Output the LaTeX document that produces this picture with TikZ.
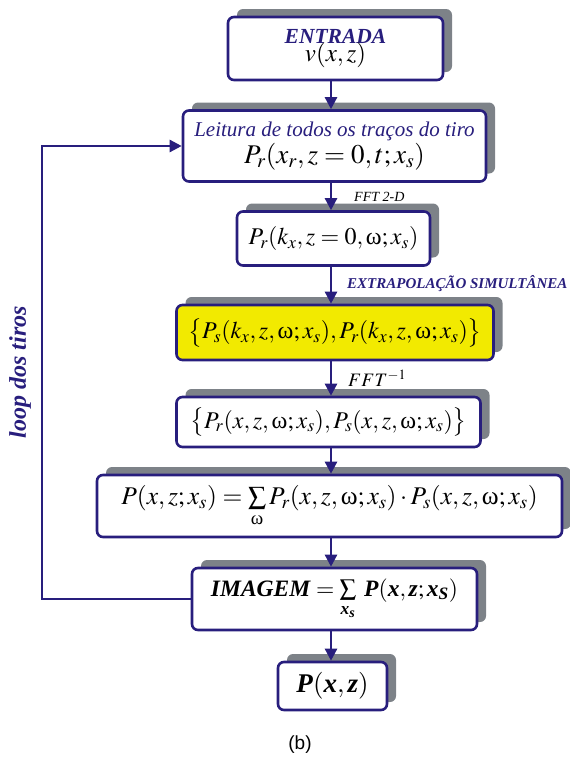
\documentclass[tikz,border=0pt]{standalone}
\usepackage{amsmath}
\usepackage{mathptmx}
\usepackage{fontspec}
\setmainfont{Liberation Serif}
\newfontfamily\labelsans{Liberation Sans}
\usetikzlibrary{arrows.meta,shadows}

\definecolor{navy}{RGB}{40,30,125}
\definecolor{shade}{RGB}{125,130,136}
\definecolor{boxyellow}{RGB}{242,234,0}

\newcommand{\om}{\textup{ω}}
\newcommand{\bi}[1]{\textbf{\textit{#1}}}

\begin{document}
\begin{tikzpicture}[x=1pt,y=-1pt,
  box/.style={draw=navy, line width=2.6pt, rounded corners=6pt, fill=white,
    inner sep=0pt, align=center,
    drop shadow={shadow xshift=9pt, shadow yshift=8pt, fill=shade, opacity=1}},
  arr/.style={draw=navy, line width=2.4pt, -{Triangle[length=12pt,width=12pt]}},
  mathsize/.style={font=\fontsize{24}{28}\selectfont},
  note/.style={inner sep=0pt, anchor=west}]

\useasboundingbox (0,0) rectangle (570,766);

\coordinate (ax) at (331,0);
\coordinate (lx) at (42,0);

% process boxes, top to bottom
\node[box, minimum width=215pt, minimum height=63pt] (b1) at (335.5,48.5)
  {{\fontsize{21.5}{22}\selectfont\bfseries\itshape\color{navy} ENTRADA}\\[-1pt]
   {\fontsize{25}{26}\selectfont $v(x,z)$}};

\node[box, minimum width=303pt, minimum height=71pt] (b2) at (334.5,146)
  {{\fontsize{21}{22}\selectfont\itshape\color{navy} Leitura de todos os traços do tiro}\\[2pt]
   {\fontsize{27}{28}\selectfont $P_r(x_r,z=0,t;x_s)$}};

\node[box, mathsize, minimum width=193pt, minimum height=54pt] (b3) at (333.5,238.5)
  {$P_r(k_x,z=0,\om;x_s)$};

\node[box, mathsize, fill=boxyellow, minimum width=317pt, minimum height=55pt] (b4) at (335,332.5)
  {$\bigl\{P_s(k_x,z,\om;x_s),P_r(k_x,z,\om;x_s)\bigr\}$};

\node[box, mathsize, minimum width=304pt, minimum height=50pt] (b5) at (328.5,422)
  {$\bigl\{P_r(x,z,\om;x_s),P_s(x,z,\om;x_s)\bigr\}$};

\node[box, font=\fontsize{25.5}{28}\selectfont, minimum width=465pt, minimum height=62pt] (b6) at (329.5,506)
  {$P(x,z;x_s)=\sum\limits_{\om}P_r(x,z,\om;x_s)\cdot P_s(x,z,\om;x_s)$};

\node[box, minimum width=285pt, minimum height=62pt] (b7) at (334.5,599)
  {\fontsize{23.5}{26}\selectfont
   $\bi{IMAGEM}=\sum\limits_{\bi{x}_{\bi{s}}}\;\bi{P}\mathbf{(}\bi{x}\mathbf{,}\,\bi{z}\mathbf{;}\,\bi{x}_{\bi{S}}\mathbf{)}$};

\node[box, minimum width=109pt, minimum height=48pt] (b8) at (332.5,686)
  {\fontsize{27}{28}\selectfont $\bi{P}\mathbf{(}\bi{x}\mathbf{,}\,\bi{z}\mathbf{)}$};

% main flow
\draw[arr] (b1.south -| ax) -- (b2.north -| ax);
\draw[arr] (b2.south -| ax) -- (b3.north -| ax);
\draw[arr] (b3.south -| ax) -- (b4.north -| ax);
\draw[arr] (b4.south -| ax) -- (b5.north -| ax);
\draw[arr] (b5.south -| ax) -- (b6.north -| ax);
\draw[arr] (b6.south -| ax) -- (b7.north -| ax);
\draw[arr] (b7.south -| ax) -- (b8.north -| ax);

% shot loop
\draw[arr] (b7.west) -- (b7.west -| lx) |- (b2.west);

% step labels
\node[note, font=\fontsize{14}{15}\selectfont\itshape] (l1) at (354,197) {FFT 2-D};
\node[note, font=\fontsize{15}{16}\selectfont\bfseries\itshape, text=navy] (l2) at (347,284)
  {EXTRAPOLAÇÃO SIMULTÂNEA};
\node[note, font=\fontsize{19}{21}\selectfont] (l3) at (348,378) {$FFT^{-1}$};

\node[font=\fontsize{24}{26}\selectfont\bfseries\itshape, text=navy, rotate=90] (loop) at (20,372)
  {loop dos tiros};

\node[font=\fontsize{19}{21}\selectfont\labelsans] (cap) at (300,745) {(b)};

\end{tikzpicture}
\end{document}
